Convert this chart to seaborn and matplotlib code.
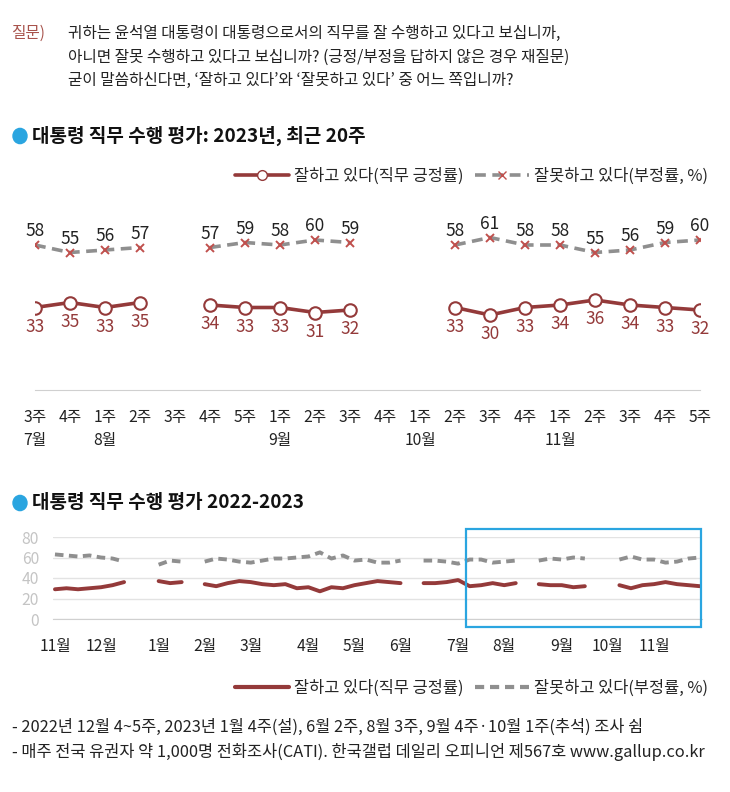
import numpy as np
import pandas as pd
import matplotlib.pyplot as plt
import seaborn as sns
from matplotlib.lines import Line2D
from matplotlib.patches import Rectangle, Circle
from matplotlib.transforms import blended_transform_factory

nan = np.nan

# weekly series, 2022-11 1주 .. 2023-11 5주 (NaN = no survey)
month_names = ["11월", "12월", "1월", "2월", "3월", "4월", "5월", "6월",
               "7월", "8월", "9월", "10월", "11월"]
weeks_per_month = [4, 5, 4, 4, 5, 4, 4, 5, 4, 5, 4, 4, 5]
approve = [29, 30, 29, 30,
           31, 33, 36, nan, nan,
           37, 35, 36, nan,
           34, 32, 35, 37,
           36, 34, 33, 34, 30,
           31, 27, 31, 30,
           33, 35, 37, 36,
           35, nan, 35, 35, 36,
           38, 32, 33, 35,
           33, 35, nan, 34, 33,
           33, 31, 32, nan,
           nan, 33, 30, 33,
           34, 36, 34, 33, 32]
disapprove = [63, 62, 61, 62,
              60, 59, 56, nan, nan,
              53, 57, 56, nan,
              56, 59, 58, 56,
              55, 57, 59, 59, 60,
              61, 65, 59, 62,
              57, 58, 55, 55,
              57, nan, 57, 57, 56,
              54, 58, 58, 55,
              56, 57, nan, 57, 59,
              58, 60, 59, nan,
              nan, 58, 61, 58,
              58, 55, 56, 59, 60]

# last 20 weeks (top chart)
recent_weeks = ["3주", "4주", "1주", "2주", "3주", "4주", "5주", "1주", "2주", "3주",
                "4주", "1주", "2주", "3주", "4주", "1주", "2주", "3주", "4주", "5주"]
recent_months = {0: "7월", 2: "8월", 7: "9월", 11: "10월", 15: "11월"}
n_recent = len(recent_weeks)

RED = "#943a3a"
XRED = "#c0504d"
GRAY = "#8f8f8f"
BLUE = "#2aa5e0"
W, H = 730, 792


def segments(values):
    """long frame with a segment id so gaps break the line"""
    v = pd.Series(values, dtype=float)
    df = pd.DataFrame({"x": np.arange(len(v)), "y": v, "seg": v.isna().cumsum()})
    return df.dropna()


sns.set_style("white")
plt.rcParams["font.family"] = ["Noto Sans CJK KR", "DejaVu Sans"]

fig = plt.figure(figsize=(W / 100, H / 100), dpi=100)


def fx(px):
    return px / W


def fy(py):
    return 1 - py / H


# header question
fig.text(fx(12), fy(33), "질문)", color="#a8534c", fontsize=11.3, va="center")
for py, line in [(33, "귀하는 윤석열 대통령이 대통령으로서의 직무를 잘 수행하고 있다고 보십니까,"),
                 (57, "아니면 잘못 수행하고 있다고 보십니까? (긍정/부정을 답하지 않은 경우 재질문)"),
                 (80, "굳이 말씀하신다면, ‘잘하고 있다’와 ‘잘못하고 있다’ 중 어느 쪽입니까?")]:
    fig.text(fx(68), fy(py), line, color="#222222", fontsize=11.3, va="center")

# section titles with blue bullets
for py, title in [(136, "대통령 직무 수행 평가: 2023년, 최근 20주"),
                  (503, "대통령 직무 수행 평가 2022-2023")]:
    fig.patches.append(Circle((fx(20), fy(py)), 7 / W, color=BLUE,
                              transform=fig.transFigure))
    fig.text(fx(32), fy(py), title, fontsize=13.7, fontweight="bold", color="#111111", va="center")

# ---------- top chart ----------
ax1 = fig.add_axes([fx(35), fy(390), fx(700) - fx(35), (390 - 200) / H])
pos_recent = approve[-n_recent:]
neg_recent = disapprove[-n_recent:]
sns.lineplot(data=segments(neg_recent), x="x", y="y", units="seg", estimator=None, ax=ax1,
             color=GRAY, lw=2.6, linestyle=(0, (3, 1.8)), marker="x", markersize=6,
             markeredgecolor=XRED, markeredgewidth=1.4, zorder=3)
sns.lineplot(data=segments(pos_recent), x="x", y="y", units="seg", estimator=None, ax=ax1,
             color=RED, lw=2.6, marker="o", markersize=9, markerfacecolor="white",
             markeredgecolor=RED, markeredgewidth=1.5, zorder=4)
for i, (p, n) in enumerate(zip(pos_recent, neg_recent)):
    if not np.isnan(p):
        ax1.annotate(f"{p:.0f}", (i, p), xytext=(0, -14), textcoords="offset points",
                     ha="center", va="center", fontsize=12.5, color=RED)
    if not np.isnan(n):
        ax1.annotate(f"{n:.0f}", (i, n), xytext=(0, 10), textcoords="offset points",
                     ha="center", va="center", fontsize=12.5, color="#222222")
ax1.set_xlim(0, n_recent - 1)
ax1.set_ylim(0, 76)
ax1.set_xticks(range(n_recent))
ax1.set_xticklabels(recent_weeks, fontsize=11.3, color="#222222")
ax1.tick_params(axis="x", length=5, color="#cccccc", pad=9)
ax1.set_yticks([])
ax1.set_xlabel("")
ax1.set_ylabel("")
for s in ["top", "left", "right"]:
    ax1.spines[s].set_visible(False)
ax1.spines["bottom"].set_color("#d0d0d0")
tr1 = blended_transform_factory(ax1.transData, ax1.transAxes)
for i, m in recent_months.items():
    ax1.text(i, -51 / 190, m, transform=tr1, ha="center", va="center",
             fontsize=11.3, color="#222222")

leg_handles = [Line2D([], [], color=RED, lw=2.6, marker="o", markersize=7,
                      markerfacecolor="white", markeredgecolor=RED),
               Line2D([], [], color=GRAY, lw=2.6, linestyle=(0, (3, 1.8)), marker="x",
                      markersize=6, markeredgecolor=XRED)]
leg_labels = ["잘하고 있다(직무 긍정률)", "잘못하고 있다(부정률, %)"]
fig.legend(leg_handles, leg_labels, ncol=2, loc="center right",
           bbox_to_anchor=(fx(716), fy(176)), frameon=False, fontsize=11.8,
           handlelength=3.3, handletextpad=0.3, columnspacing=0.7, borderpad=0)

# ---------- bottom chart ----------
n_all = len(approve)
ax2 = fig.add_axes([fx(53), fy(619), fx(702) - fx(53), 82 / H])
ax2.set_xlim(-0.17, n_all - 1 + 0.17)
ax2.set_ylim(0, 80)
ax2.set_yticks([0, 20, 40, 60, 80])
ax2.yaxis.grid(True, color="#e3e3e3", lw=1)
ax2.set_axisbelow(True)
sns.lineplot(data=segments(disapprove), x="x", y="y", units="seg", estimator=None, ax=ax2,
             color=GRAY, lw=2.8, linestyle=(0, (2.2, 1.4)))
sns.lineplot(data=segments(approve), x="x", y="y", units="seg", estimator=None, ax=ax2,
             color=RED, lw=2.8)
starts = np.cumsum([0] + weeks_per_month[:-1])
tick_labels = [""] * n_all
for s, m in zip(starts, month_names):
    tick_labels[s] = m
ax2.set_xticks(range(n_all))
ax2.set_xticklabels(tick_labels, fontsize=11.3, color="#222222")
ax2.tick_params(axis="x", length=5, color="#cccccc", pad=9)
ax2.tick_params(axis="y", length=0, labelsize=11.3, labelcolor="#c4c4c4", pad=10)
ax2.set_xlabel("")
ax2.set_ylabel("")
for s in ["top", "left", "right"]:
    ax2.spines[s].set_visible(False)
ax2.spines["bottom"].set_color("#d0d0d0")
ax2.add_patch(Rectangle((35.7, -7.5), 56.1 - 35.7, 87.8 + 7.5, fill=False,
                        edgecolor=BLUE, lw=1.6, clip_on=False, zorder=5))

leg2_handles = [Line2D([], [], color=RED, lw=3),
                Line2D([], [], color=GRAY, lw=3, linestyle=(0, (2.2, 1.4)))]
fig.legend(leg2_handles, leg_labels, ncol=2, loc="center right",
           bbox_to_anchor=(fx(716), fy(688)), frameon=False, fontsize=11.8,
           handlelength=3.3, handletextpad=0.3, columnspacing=0.7, borderpad=0)

# footnotes
fig.text(fx(12), fy(727), "- 2022년 12월 4~5주, 2023년 1월 4주(설), 6월 2주, 8월 3주, 9월 4주·10월 1주(추석) 조사 쉼",
         fontsize=11.8, color="#222222", va="center")
fig.text(fx(12), fy(752), "- 매주 전국 유권자 약 1,000명 전화조사(CATI). 한국갤럽 데일리 오피니언 제567호 www.gallup.co.kr",
         fontsize=11.8, color="#222222", va="center")

fig.savefig("out.png", dpi=100)
